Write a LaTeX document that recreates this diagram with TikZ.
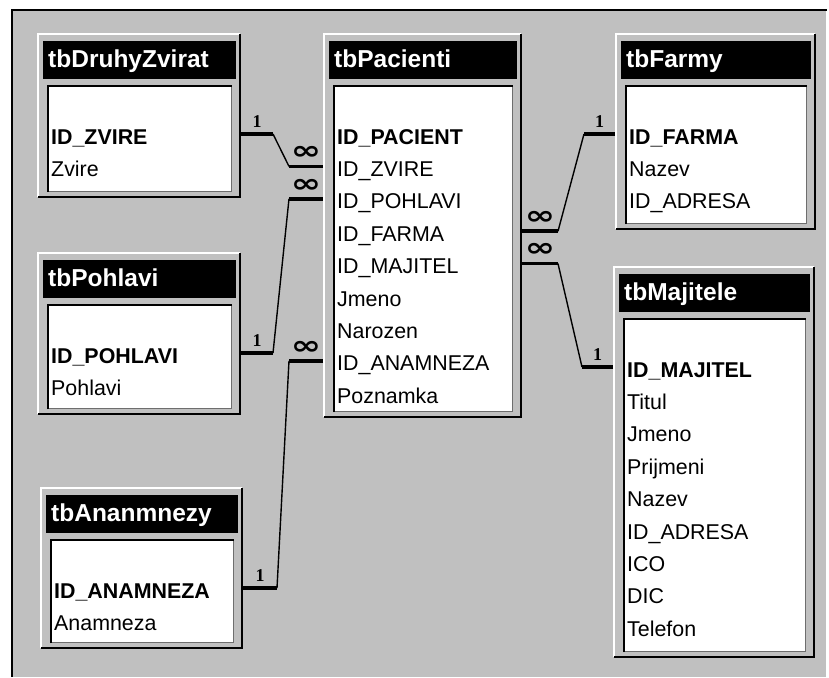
\documentclass[tikz,border=0pt]{standalone}
\usepackage{fontspec}
\setmainfont{Liberation Sans}
\newfontfamily\cardfont{Liberation Serif}
\newfontfamily\manyfont{DejaVu Sans}
\usetikzlibrary{positioning}

\definecolor{accessgray}{RGB}{192,192,192}
\definecolor{accessshade}{RGB}{110,110,110}

\tikzset{
  tbltitle/.style={anchor=base west, inner sep=0pt, text=white, font=\fontsize{24.5}{28}\selectfont\bfseries},
  fld/.style={anchor=base west, inner sep=0pt, font=\fontsize{21.4}{24}\selectfont},
  pkey/.style={fld, font=\fontsize{21.4}{24}\selectfont\bfseries},
  stub/.style={line width=3.5pt},
  rel/.style={line width=1.4pt},
  onelbl/.style={above=5pt, inner sep=0pt, font=\cardfont\fontsize{18}{18}\selectfont\bfseries},
  manylbl/.style={above=5pt, inner sep=0pt, font=\manyfont\fontsize{26}{26}\selectfont\bfseries},
}
\newcommand{\many}{\scalebox{1.4}[1]{∞}}

% \dbtable{name}{left}{top}{right}{bottom}{title}{primary key}{other fields}
\newcommand{\dbtable}[8]{
  \fill[accessgray] (#2,#3) rectangle (#4,#5); % frame
  \draw[white, line width=2pt] ({#2+1},{#5-1}) -- ({#2+1},{#3+1}) -- ({#4-1},{#3+1});
  \draw[black, line width=2pt] ({#2+1},{#5-1}) -- ({#4-1},{#5-1}) -- ({#4-1},{#3+1});
  \fill[black] ({#2+6},{#3+8}) rectangle ({#4-5},{#3+46}); % title bar
  \node[tbltitle] (#1) at ({#2+11},{#3+34}) {#6};
  \fill[white] ({#2+10},{#3+52}) rectangle ({#4-9},{#5-6}); % field list
  \draw[accessshade, line width=1pt] ({#2+10},{#5-6.5}) -- ({#4-9.5},{#5-6.5}) -- ({#4-9.5},{#3+52});
  \draw[black, line width=2pt] ({#2+11},{#5-6}) -- ({#2+11},{#3+53}) -- ({#4-9},{#3+53});
  \node[pkey] (#1-1) at ({#2+14},{#3+111}) {#7};
  \coordinate (#1-1-w) at (#2,{#3+101});
  \coordinate (#1-1-e) at (#4,{#3+101});
  \foreach \f [count=\i from 2] in {#8} {
    \node[fld] (#1-\i) at ({#2+14},{#3+111+(\i-1)*32.4}) {\f};
    \coordinate (#1-\i-w) at (#2,{#3+101+(\i-1)*32.4});
    \coordinate (#1-\i-e) at (#4,{#3+101+(\i-1)*32.4});
  }
}

\begin{document}
\begin{tikzpicture}[x=1pt, y=-1pt]
\useasboundingbox (0,0) rectangle (829,677);
\fill[white] (0,0) rectangle (829,677); % page
\fill[accessgray] (12,10) rectangle (826,677); % window
\draw[line width=2pt] (12,677) -- (12,10) -- (827,10); % window edge

\dbtable{zv}{37}{33}{241}{198}{tbDruhyZvirat}{ID\_ZVIRE}{Zvire}
\dbtable{po}{37}{252}{241}{415}{tbPohlavi}{ID\_POHLAVI}{Pohlavi}
\dbtable{an}{40}{487}{243}{649}{tbAnanmnezy}{ID\_ANAMNEZA}{Anamneza}
\dbtable{pac}{323}{33}{522}{418}{tbPacienti}{ID\_PACIENT}{ID\_ZVIRE, ID\_POHLAVI, ID\_FARMA, ID\_MAJITEL, Jmeno, Narozen, ID\_ANAMNEZA, Poznamka}
\dbtable{fa}{615}{33}{816}{230}{tbFarmy}{ID\_FARMA}{Nazev, ID\_ADRESA}
\dbtable{ma}{613}{266}{815}{658}{tbMajitele}{ID\_MAJITEL}{Titul, Jmeno, Prijmeni, Nazev, ID\_ADRESA, ICO, DIC, Telefon}

% tbDruhyZvirat -- tbPacienti
\draw[stub] (zv-1-e) -- node[onelbl] {1} ++(32,0) coordinate (zv-end);
\draw[stub] (pac-2-w) -- node[manylbl] {\many} ++(-34,0) coordinate (pac-zv);
\draw[rel] (zv-end) -- (pac-zv);
% tbPohlavi -- tbPacienti
\draw[stub] (po-1-e) -- node[onelbl] {1} ++(32,0) coordinate (po-end);
\draw[stub] (pac-3-w) -- node[manylbl] {\many} ++(-34,0) coordinate (pac-po);
\draw[rel] (po-end) -- (pac-po);
% tbAnanmnezy -- tbPacienti
\draw[stub] (an-1-e) -- node[onelbl] {1} ++(34,0) coordinate (an-end);
\draw[stub] (pac-8-w) -- node[manylbl] {\many} ++(-34,0) coordinate (pac-an);
\draw[rel] (an-end) -- (pac-an);
% tbPacienti -- tbFarmy
\draw[stub] (pac-4-e) -- node[manylbl] {\many} ++(36,0) coordinate (pac-fa);
\draw[stub] (fa-1-w) -- node[onelbl] {1} ++(-31,0) coordinate (fa-end);
\draw[rel] (pac-fa) -- (fa-end);
% tbPacienti -- tbMajitele
\draw[stub] (pac-5-e) -- node[manylbl] {\many} ++(36,0) coordinate (pac-ma);
\draw[stub] (ma-1-w) -- node[onelbl] {1} ++(-31,0) coordinate (ma-end);
\draw[rel] (pac-ma) -- (ma-end);
\end{tikzpicture}
\end{document}
